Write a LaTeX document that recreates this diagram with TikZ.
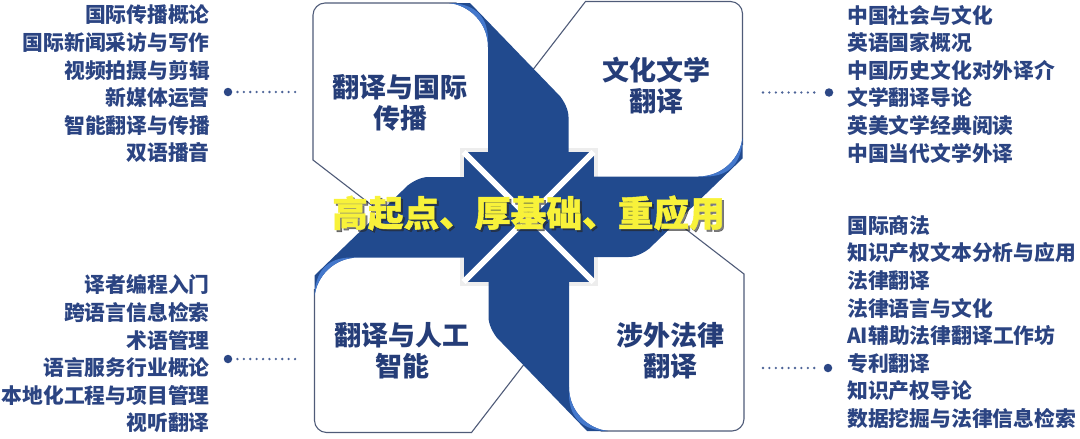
\documentclass[tikz,border=0pt]{standalone}
\usepackage{fontspec}
\setmainfont{Noto Sans CJK SC}
\definecolor{arrowblue}{HTML}{214A8E}
\definecolor{hiblue}{HTML}{4478CC}
\definecolor{navy}{HTML}{253D78}
\definecolor{listnavy}{HTML}{2B4482}
\definecolor{boxline}{HTML}{4F5B78}
\definecolor{cyellow}{HTML}{F8F23A}
\definecolor{dotline}{HTML}{2C4785}
\begin{document}
\begin{tikzpicture}[x=1pt,y=-1pt,
  boxedge/.style={draw=boxline,line width=1.1pt},
  arrowbody/.style={fill=arrowblue},
  hilite/.style={fill=hiblue},
  boxtitle/.style={font=\fontsize{27}{31}\selectfont\bfseries,text=navy,align=center,inner sep=0pt},
  courselist/.style={font=\fontsize{20.8}{27.6}\selectfont\bfseries,text=listnavy,inner sep=0pt},
  dotnode/.style={circle,fill=dotline,inner sep=0pt,minimum size=8.5pt},
  dotlink/.style={draw=dotline!85,line width=2.6pt,dash pattern=on 0pt off 6.4pt,line cap=round},
  gapline/.style={draw=white,line width=6pt},
  slogan/.style={font=\fontsize{35.7}{40}\selectfont\bfseries\addfontfeatures{FakeBold=1.2},inner sep=0pt}]
\useasboundingbox (0,0) rectangle (1080,439);
% box outlines (four-fold symmetric)
\foreach \a in {0,90,180,270}{
  \begin{scope}[shift={(528.5,217)},rotate=\a]
    \draw[boxedge] (-72,-214) -- (-203.5,-214) .. controls (-210,-214) and (-215.5,-208.5) .. (-215.5,-202)
      -- (-215.5,-57) -- (-131.5,7.75);
  \end{scope}
}
% soft shade round the arrow heads
\fill[black!7] (459.5,148) rectangle (597.5,286);
% arrow bodies
\foreach \a in {0,90,180,270}{
  \begin{scope}[shift={(528.5,217)},rotate=\a]
    \fill[arrowbody] (-79.5,-214) .. controls (-60,-212) and (-40.5,-195) .. (-40.5,-170)
      -- (-40.5,-60) -- (40,-60) -- (40,-100) .. controls (40,-107) and (36,-115) .. (31.7,-120.6)
      -- (-58.5,-214) -- cycle;
    \fill[hilite] (-79.5,-214) .. controls (-60,-212) and (-40.5,-195) .. (-40.5,-170)
      -- (-40.5,-178) .. controls (-41,-202) and (-55,-213.5) .. (-79.5,-214) -- cycle;
  \end{scope}
}
% arrow heads
\fill[arrowblue] (463.5,152) rectangle (593.5,282);
\draw[gapline] (463.5,152) -- (593.5,282);
\draw[gapline] (463.5,282) -- (593.5,152);
% slogan
\node[slogan,text=black!85,opacity=0.6] (sloganshadow) at (530.5,215) {高起点、厚基础、重应用};
\node[slogan,text=cyellow] (slogantext) at (528.5,213) {高起点、厚基础、重应用};
% box titles
\node[boxtitle] (tl) at (400,103) {翻译与国际\\传播};
\node[boxtitle] (tr) at (656,85.5) {文化文学\\翻译};
\node[boxtitle] (bl) at (402,351) {翻译与人工\\智能};
\node[boxtitle] (br) at (670,351) {涉外法律\\翻译};
% course lists
\node[courselist,align=right,anchor=east] (ltl) at (210,84)
  {国际传播概论\\国际新闻采访与写作\\视频拍摄与剪辑\\新媒体运营\\智能翻译与传播\\双语播音};
\node[courselist,align=left,anchor=west] (ltr) at (847,84)
  {中国社会与文化\\英语国家概况\\中国历史文化对外译介\\文学翻译导论\\英美文学经典阅读\\中国当代文学外译};
\node[courselist,align=right,anchor=east] (lbl) at (210,354)
  {译者编程入门\\跨语言信息检索\\术语管理\\语言服务行业概论\\本地化工程与项目管理\\视听翻译};
\node[courselist,align=left,anchor=west] (lbr) at (847,322)
  {国际商法\\知识产权文本分析与应用\\法律翻译\\法律语言与文化\\AI辅助法律翻译工作坊\\专利翻译\\知识产权导论\\数据挖掘与法律信息检索};
% dotted connectors
\node[dotnode] (d1) at (228,92) {};
\coordinate (e1) at (296,92);
\draw[dotlink,shorten <=5pt] (d1) -- (e1);
\node[dotnode] (d2) at (829,92.5) {};
\coordinate (e2) at (763,92.5);
\draw[dotlink,shorten >=5pt] (e2) -- (d2);
\node[dotnode] (d3) at (228,359) {};
\coordinate (e3) at (296,359);
\draw[dotlink,shorten <=5pt] (d3) -- (e3);
\node[dotnode] (d4) at (828,368) {};
\coordinate (e4) at (763,368);
\draw[dotlink,shorten >=5pt] (e4) -- (d4);
\end{tikzpicture}
\end{document}
